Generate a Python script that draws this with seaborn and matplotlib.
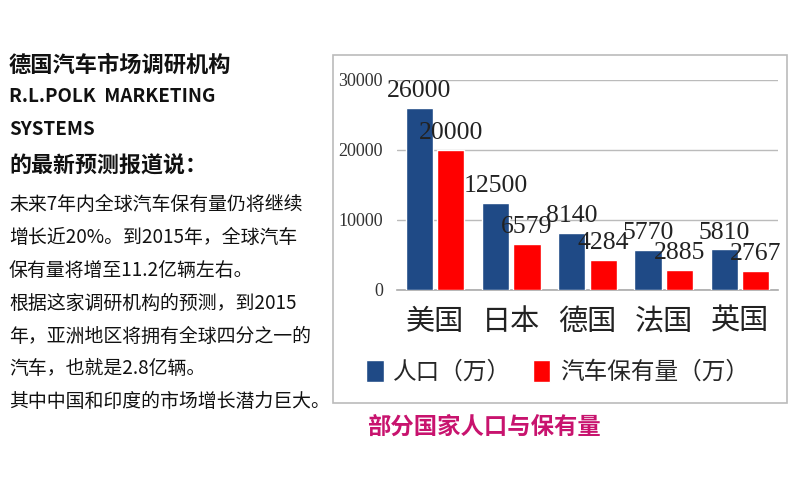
import matplotlib
matplotlib.use("Agg")
import matplotlib.pyplot as plt
import seaborn as sns
import pandas as pd
from matplotlib.patches import Rectangle, Patch

categories = ["美国", "日本", "德国", "法国", "英国"]
population = [26000, 12500, 8140, 5770, 5810]
cars = [20000, 6579, 4284, 2885, 2767]
series_names = ["人口（万）", "汽车保有量（万）"]
yticks = [0, 10000, 20000, 30000]

title_lines = ["德国汽车市场调研机构", "R.L.POLK  MARKETING", "SYSTEMS", "的最新预测报道说："]
body_lines = [
    "未来7年内全球汽车保有量仍将继续",
    "增长近20%。到2015年，全球汽车",
    "保有量将增至11.2亿辆左右。",
    "根据这家调研机构的预测，到2015",
    "年，亚洲地区将拥有全球四分之一的",
    "汽车，也就是2.8亿辆。",
    "其中中国和印度的市场增长潜力巨大。",
]
caption = "部分国家人口与保有量"

sns.set_theme(style="white")
plt.rcParams["font.family"] = ["Noto Sans CJK SC", "DejaVu Sans"]

df = pd.DataFrame({
    "country": categories * 2,
    "value": population + cars,
    "series": [series_names[0]] * len(categories) + [series_names[1]] * len(categories),
})

BLUE = "#1F4A86"
RED = "#FF0000"

fig = plt.figure(figsize=(8, 4.94), dpi=100)
fig.patch.set_facecolor("white")

# chart frame box
fig.patches.append(Rectangle((333 / 800, 1 - 403 / 494), (787 - 333) / 800, (403 - 55) / 494,
                             transform=fig.transFigure, fill=False, edgecolor="#BBBBBB",
                             linewidth=1.2, zorder=0))

ax = fig.add_axes([397 / 800, 1 - 290 / 494, (778 - 397) / 800, (290 - 80) / 494])
sns.barplot(data=df, x="country", y="value", hue="series", palette=[BLUE, RED],
            saturation=1, width=0.82, gap=0.13, ax=ax, legend=False, zorder=3)

ax.set_ylim(0, 30000)
ax.set_xlim(-0.5, 4.5)
ax.set_yticks(yticks)
ax.set_yticklabels([str(v) for v in yticks], family="Liberation Serif", fontsize=13, color="#333333")
ax.tick_params(axis="y", length=0, pad=10)
ax.tick_params(axis="x", length=0, pad=12)
ax.set_xticks(range(len(categories)))
ax.set_xticklabels(categories, fontsize=21, color="#222222")
ax.set_xlabel("")
ax.set_ylabel("")
for s in ["left", "right", "top"]:
    ax.spines[s].set_visible(False)
ax.spines["bottom"].set_color("#AAAAAA")
ax.spines["bottom"].set_linewidth(1.2)
ax.yaxis.grid(True, color="#BBBBBB", linewidth=1.0, zorder=0)
ax.set_axisbelow(True)
ax.patch.set_alpha(0)

for cont in ax.containers:
    for bar in cont:
        h = bar.get_height()
        ax.annotate(f"{int(h)}", (bar.get_x() + bar.get_width() / 2, h),
                    xytext=(0, 4), textcoords="offset points", ha="center", va="bottom",
                    family="Liberation Serif", fontsize=18.5, color="#222222", zorder=5)

handles = [Patch(facecolor=BLUE), Patch(facecolor=RED)]
fig.legend(handles, series_names, loc="center left", bbox_to_anchor=(366 / 800, 1 - 372 / 494),
           ncol=2, frameon=False, fontsize=17, handlelength=0.75, handleheight=1.1,
           handletextpad=0.4, columnspacing=0.9, borderaxespad=0, borderpad=0)

# caption
fig.text(367 / 800, 1 - 427 / 494, caption, fontsize=16.8, fontweight="bold", color="#C8136E",
         ha="left", va="center")

# left text block
title_y = [65, 97, 129, 166]
title_sizes = [16, 13.5, 13.5, 15.8]
for t, y, s in zip(title_lines, title_y, title_sizes):
    fig.text(9 / 800, 1 - y / 494, t, fontsize=s, fontweight="bold", color="#111111",
             ha="left", va="center")
body_y = [204, 237, 270, 303, 336, 368, 401]
for t, y in zip(body_lines, body_y):
    fig.text(9 / 800, 1 - y / 494, t, fontsize=13.6, color="#111111", ha="left", va="center")

fig.savefig("out.png", dpi=100, facecolor="white")
